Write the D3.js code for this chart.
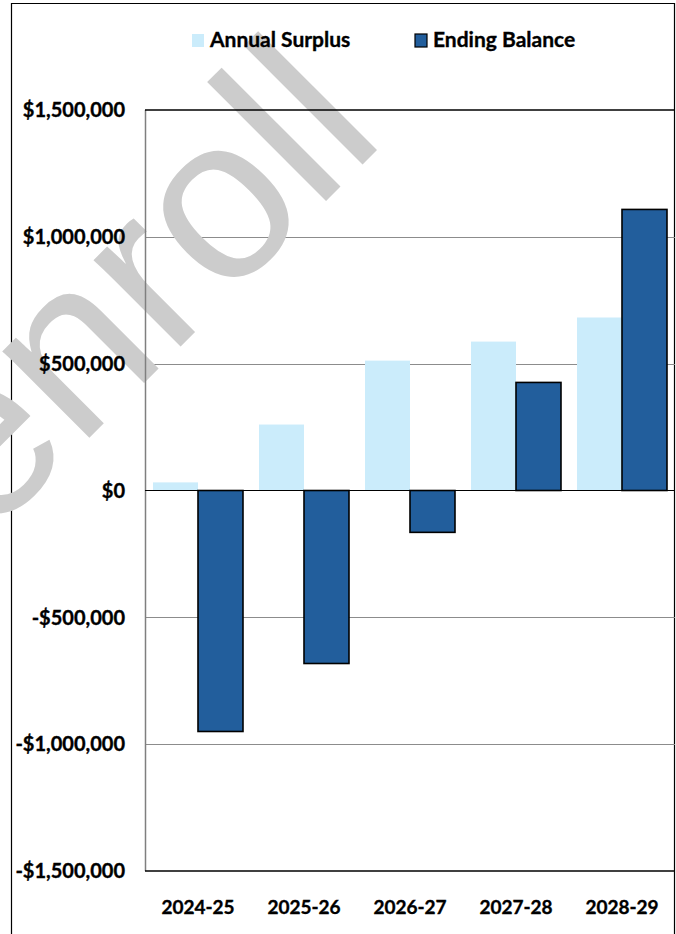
<!DOCTYPE html>
<html>
<head>
<meta charset="utf-8">
<script src="https://cdn.jsdelivr.net/npm/d3@7"></script>
<style>
body { margin:0; background:#fff; }
text { font-family: Lato, "Liberation Sans", sans-serif; font-weight:bold; fill:#000; }
text.lbl { stroke:#000; stroke-width:0.35px; }
</style>
</head>
<body>
<svg id="chart"></svg>
<script>
var years = ["2024-25","2025-26","2026-27","2027-28","2028-29"]
var seriesNames = ["Annual Surplus","Ending Balance"]
var annualSurplus = [32000, 260000, 512000, 587000, 682000]
var endingBalance = [-950000, -682000, -165000, 426000, 1108000]
var yTicks = [-1500000,-1000000,-500000,0,500000,1000000,1500000]

var svgw = 676
var svgh = 934
var colors = {"Annual Surplus":"#cbecfb", "Ending Balance":"#225e9c"}

var plot = {left:145, right:675, top:110, bottom:871}

var fmt = function(v)
{
    if(v<0) {return "-$"+d3.format(",")(-v)}
    return "$"+d3.format(",")(v)
}

var svg = d3.select("#chart")
    .attr("width",svgw)
    .attr("height",svgh)

var xScale = d3.scaleBand()
    .domain(years)
    .range([plot.left,plot.right])
    .padding(0)

var x1 = d3.scaleBand()
    .domain(seriesNames)
    .range([0,xScale.bandwidth()])
    .paddingInner(0)
    .paddingOuter(0.178)

var yScale = d3.scaleLinear()
    .domain([-1500000,1500000])
    .range([plot.bottom,plot.top])

var rows = years.map(function(y,i){
    return {year:y, values:[
        {name:"Annual Surplus", value:annualSurplus[i]},
        {name:"Ending Balance", value:endingBalance[i]}]}
})

//outer border
svg.append("path")
    .attr("d","M11.5,"+svgh+" V3.5 H674.5 V"+svgh)
    .attr("fill","none")
    .attr("stroke","#000")
    .attr("stroke-width",1.2)

//gridlines
svg.append("g")
    .selectAll("line")
    .data(yTicks.filter(function(d){return d!=0 && d!=1500000 && d!=-1500000}))
    .enter()
    .append("line")
    .attr("x1",plot.left)
    .attr("x2",plot.right)
    .attr("y1",function(d){return Math.round(yScale(d))+0.5})
    .attr("y2",function(d){return Math.round(yScale(d))+0.5})
    .attr("stroke","#8c8c8c")
    .attr("stroke-width",1)

//watermark
svg.append("text")
    .text("enroll")
    .attr("transform","translate(388,139) rotate(-45)")
    .attr("text-anchor","end")
    .style("font-family","'Liberation Sans', Arial, sans-serif")
    .style("font-weight","normal")
    .style("font-size","232px")
    .style("fill","#cccccc")

//bars
var groups = svg.append("g")
    .selectAll("g")
    .data(rows)
    .enter()
    .append("g")
    .attr("transform",function(d){return "translate("+xScale(d.year)+",0)"})

groups.selectAll("rect")
    .data(function(d){return d.values})
    .enter()
    .append("rect")
    .attr("x",function(d){return x1(d.name)})
    .attr("width",x1.bandwidth())
    .attr("y",function(d){return yScale(Math.max(0,d.value))})
    .attr("height",function(d){return Math.abs(yScale(d.value)-yScale(0))})
    .attr("fill",function(d){return colors[d.name]})
    .attr("stroke",function(d){return d.name=="Ending Balance" ? "#000" : "none"})
    .attr("stroke-width",1.6)

//frame
svg.append("line")
    .attr("x1",plot.left+0.5).attr("x2",plot.left+0.5)
    .attr("y1",plot.top).attr("y2",plot.bottom)
    .attr("stroke","#7f7f7f").attr("stroke-width",1.5)
svg.append("line")
    .attr("x1",plot.left).attr("x2",plot.right)
    .attr("y1",plot.top).attr("y2",plot.top)
    .attr("stroke","#000").attr("stroke-width",1.5)
svg.append("line")
    .attr("x1",plot.left).attr("x2",plot.right)
    .attr("y1",plot.bottom).attr("y2",plot.bottom)
    .attr("stroke","#000").attr("stroke-width",1.5)
svg.append("line")
    .attr("x1",plot.left).attr("x2",plot.right)
    .attr("y1",yScale(0)).attr("y2",yScale(0))
    .attr("stroke","#000").attr("stroke-width",1.2)

//y tick labels
svg.append("g")
    .selectAll("text")
    .data(yTicks)
    .enter()
    .append("text")
    .text(fmt)
    .classed("lbl",true)
    .attr("x",125)
    .attr("y",function(d){return yScale(d)})
    .attr("dy","0.36em")
    .attr("text-anchor","end")
    .style("font-size","20px")

//x labels
svg.append("g")
    .selectAll("text")
    .data(years)
    .enter()
    .append("text")
    .text(function(d){return d})
    .classed("lbl",true)
    .attr("x",function(d){return xScale(d)+xScale.bandwidth()/2})
    .attr("y",914)
    .attr("text-anchor","middle")
    .style("font-size","19px")

//legend
var legend = svg.append("g")
    .selectAll("g")
    .data(seriesNames)
    .enter()
    .append("g")
    .attr("transform",function(d,i){return "translate("+(i==0 ? 192 : 415)+",34)"})
legend.append("rect")
    .attr("width",12).attr("height",13)
    .attr("fill",function(d){return colors[d]})
    .attr("stroke",function(d){return d=="Ending Balance" ? "#000" : "none"})
    .attr("stroke-width",1.2)
legend.append("text")
    .text(function(d){return d})
    .classed("lbl",true)
    .attr("x",18)
    .attr("y",13)
    .style("font-size","21px")
</script>
</body>
</html>
